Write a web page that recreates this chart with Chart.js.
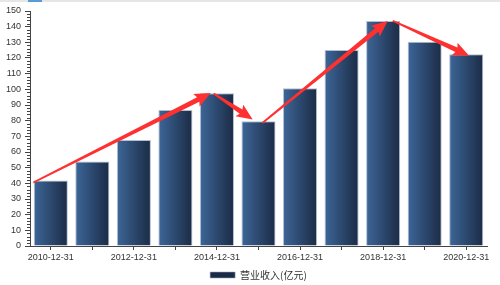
<!DOCTYPE html>
<html>
<head>
<meta charset="utf-8">
<script src="https://cdn.jsdelivr.net/npm/chart.js@4/dist/chart.umd.min.js"></script>
<style>
  html, body { margin: 0; padding: 0; background: #fff; }
  #wrap { position: relative; width: 500px; height: 285px; }
  #topline { position: absolute; left: 0; top: 0; width: 500px; height: 2px; background: #e6e6e6; }
  #toptab { position: absolute; left: 28px; top: 0; width: 14px; height: 2px; background: #5b9bd5; }
</style>
</head>
<body>
<div id="wrap">
  <canvas id="revChart" width="500" height="285"></canvas>
  <div id="topline"></div>
  <div id="toptab"></div>
</div>
<script>
// categories (report dates)
const categories = ["2010-12-31", "2011-12-31", "2012-12-31", "2013-12-31", "2014-12-31", "2015-12-31",
  "2016-12-31", "2017-12-31", "2018-12-31", "2019-12-31", "2020-12-31"];

// revenue, 亿元
const revenue = [41.8, 54.0, 67.7, 86.8, 97.5, 79.7, 100.7, 125.1, 143.6, 130.3, 122.4];

const seriesName = "营业收入(亿元)";

// y axis range / ticks
const yMin = 0;
const yMax = 150;
const yStep = 10;
const yMinorStep = 2;

// red trend arrows: [fromIndex, fromValue, toIndex, toValue] (index may be fractional)
const arrows = [
  [-0.42, 40.5, 3.85, 97.6],
  [3.92, 97.4, 4.86, 80.8],
  [5.1, 78.7, 8.11, 143.6],
  [8.23, 143.8, 10.07, 121.5]
];

const BAR_FRACTION = 0.82;

function barGradient(ctx) {
  const chart = ctx.chart;
  const xs = chart.scales.x;
  if (!chart.chartArea || !xs) return "#2b4870";
  const cx = xs.getPixelForValue(ctx.dataIndex);
  const half = (xs.width / categories.length) * BAR_FRACTION / 2;
  const g = chart.ctx.createLinearGradient(cx - half, 0, cx + half, 0);
  g.addColorStop(0, "#3d6698");
  g.addColorStop(1, "#1b2b45");
  return g;
}

// minor ticks on the y axis
const minorTicks = {
  id: "minorTicks",
  afterDraw(chart) {
    const ys = chart.scales.y;
    const c = chart.ctx;
    c.save();
    c.strokeStyle = "#444";
    c.lineWidth = 1;
    c.beginPath();
    for (let v = yMin; v <= yMax; v += yMinorStep) {
      if (v % yStep === 0) continue;
      const y = Math.round(ys.getPixelForValue(v)) + 0.5;
      c.moveTo(ys.right - 3, y);
      c.lineTo(ys.right, y);
    }
    c.stroke();
    c.restore();
  }
};

// trend arrows drawn through the chart's scales
const trendArrows = {
  id: "trendArrows",
  afterDatasetsDraw(chart) {
    const xs = chart.scales.x, ys = chart.scales.y;
    const c = chart.ctx;
    c.save();
    c.fillStyle = "#ff3030";
    arrows.forEach(a => {
      const x1 = xs.getPixelForValue(a[0]), y1 = ys.getPixelForValue(a[1]);
      const x2 = xs.getPixelForValue(a[2]), y2 = ys.getPixelForValue(a[3]);
      const ang = Math.atan2(y2 - y1, x2 - x1);
      const len = Math.hypot(x2 - x1, y2 - y1);
      const headLen = 14, headW = 7, w0 = 0.9, w1 = 2.5;
      c.save();
      c.translate(x1, y1);
      c.rotate(ang);
      c.beginPath();
      c.moveTo(0, -w0);
      c.lineTo(len - headLen, -w1);
      c.lineTo(len - headLen - 2, -headW);
      c.lineTo(len, 0);
      c.lineTo(len - headLen - 2, headW);
      c.lineTo(len - headLen, w1);
      c.lineTo(0, w0);
      c.closePath();
      c.fill();
      c.restore();
    });
    c.restore();
  }
};

const config = {
  type: "bar",
  data: {
    labels: categories,
    datasets: [{
      label: seriesName,
      data: revenue,
      backgroundColor: barGradient,
      borderColor: "rgba(150,170,200,0.75)",
      borderWidth: { top: 1, left: 1, right: 1, bottom: 0 },
      borderSkipped: false,
      categoryPercentage: 1.0,
      barPercentage: BAR_FRACTION
    }]
  },
  options: {
    responsive: false,
    animation: false,
    layout: { padding: { top: 11, right: 13, left: 0, bottom: 0 } },
    plugins: {
      tooltip: { enabled: false },
      legend: {
        position: "bottom",
        fullSize: false,
        maxHeight: 17,
        labels: {
          boxWidth: 25,
          boxHeight: 6,
          padding: 2,
          color: "#333",
          font: { size: 10, family: "'Noto Sans CJK SC', 'Liberation Sans', sans-serif" }
        }
      }
    },
    scales: {
      x: {
        grid: { display: true, drawOnChartArea: false, offset: false, tickLength: 4, tickColor: "#444" },
        border: { display: true, color: "#444" },
        ticks: {
          autoSkip: false,
          maxRotation: 0,
          padding: 2,
          color: "#333",
          font: { size: 9, family: "'Liberation Sans', sans-serif" },
          callback: (v, i) => (i % 2 === 0 ? categories[i] : "")
        },
        afterFit: s => { s.height = 22; }
      },
      y: {
        min: yMin,
        max: yMax,
        grid: { display: true, drawOnChartArea: false, tickLength: 5, tickColor: "#444" },
        border: { display: true, color: "#444" },
        ticks: {
          stepSize: yStep,
          padding: 4,
          color: "#333",
          font: { size: 9, family: "'Liberation Sans', sans-serif" }
        },
        afterFit: s => { s.width = 30; }
      }
    }
  },
  plugins: [minorTicks, trendArrows]
};

const revChart = new Chart(document.getElementById("revChart"), config);
</script>
</body>
</html>
